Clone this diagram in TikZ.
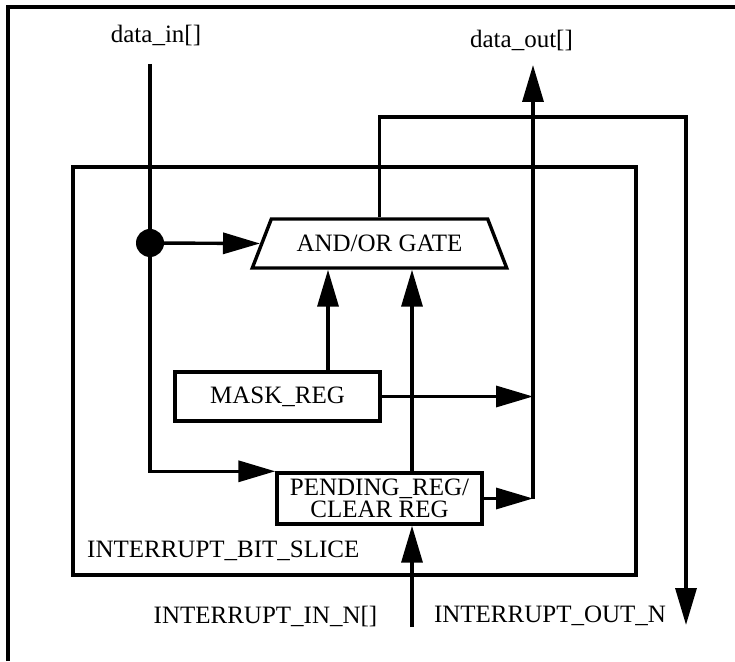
\documentclass[tikz,border=0pt]{standalone}
\usepackage{fontspec}
\setmainfont{Liberation Serif}
\usetikzlibrary{arrows.meta,shapes.geometric}
\tikzset{
  wire/.style={line width=3.4pt},
  sig/.style={wire,-{Triangle[length=37pt,width=21pt]}},
  regbox/.style={draw,line width=3.4pt,minimum width=205pt,inner sep=0pt,align=center},
  lbl/.style={inner sep=0pt,anchor=base},
}

\begin{document}
\begin{tikzpicture}[x=1pt,y=1pt,font=\fontsize{25}{22}\selectfont]
      \useasboundingbox (0,0) rectangle (735,661);
      % Frame
      \draw[wire] (8,0) -- (8,654) -- (735,654);
      % Bit slice
      \node[draw,wire,minimum width=563pt,minimum height=408pt] (slicebox) at (354.5,290) {};
      \node[lbl,anchor=base west] (slice) at (87,104) {INTERRUPT\_BIT\_SLICE};
      % Gate and registers
      \node[draw,wire,trapezium,trapezium left angle=49,trapezium right angle=49,trapezium stretches=true,
            minimum width=255pt,minimum height=49pt,inner sep=0pt] (gate) at (379.5,417.5) {AND/OR GATE};
      \node[regbox,minimum height=49pt] (mask) at (277.5,264.5) {MASK\_REG};
      \node[regbox,minimum height=51pt] (pend) at (379.5,162.5) {PENDING\_REG/\\CLEAR REG};
      % Port labels
      \node[lbl] (din) at (156,618) {data\_in[]};
      \node[lbl] (dout) at (521.5,613) {data\_out[]};
      \node[lbl] (iinlbl) at (265.5,38) {INTERRUPT\_IN\_N[]};
      \node[lbl] (ioutlbl) at (550,39) {INTERRUPT\_OUT\_N};
      % Ends of the wires
      \coordinate (dintop) at (150,597);
      \coordinate (split) at (150,418);
      \coordinate (douttip) at (533,596);
      \coordinate (loop) at (686,544);
      \coordinate (iouttip) at (686,36);
      \coordinate (iin) at (412,34);
      \coordinate (masktop) at ([xshift=50.5pt]mask.north);
      % data_in
      \draw[sig] (dintop) |- (pend.north west);
      \draw[sig] (split) -- (gate.west);
      \fill (split) circle (14pt);
      % Into the gate
      \draw[sig] (masktop) -- (masktop |- gate.south);
      \draw[sig] (iin |- pend.north) -- (iin |- gate.south);
      \draw[sig] (iin) -- (iin |- pend.south);
      % data_out
      \draw[sig] (mask.east) -- (mask.east -| douttip);
      \draw[sig] (pend.east) -- (pend.east -| douttip);
      \draw[sig] (pend.east -| douttip) -- (douttip);
      % INTERRUPT_OUT_N
      \draw[sig] (gate.north) |- (loop) -- (iouttip);
\end{tikzpicture}
\end{document}
